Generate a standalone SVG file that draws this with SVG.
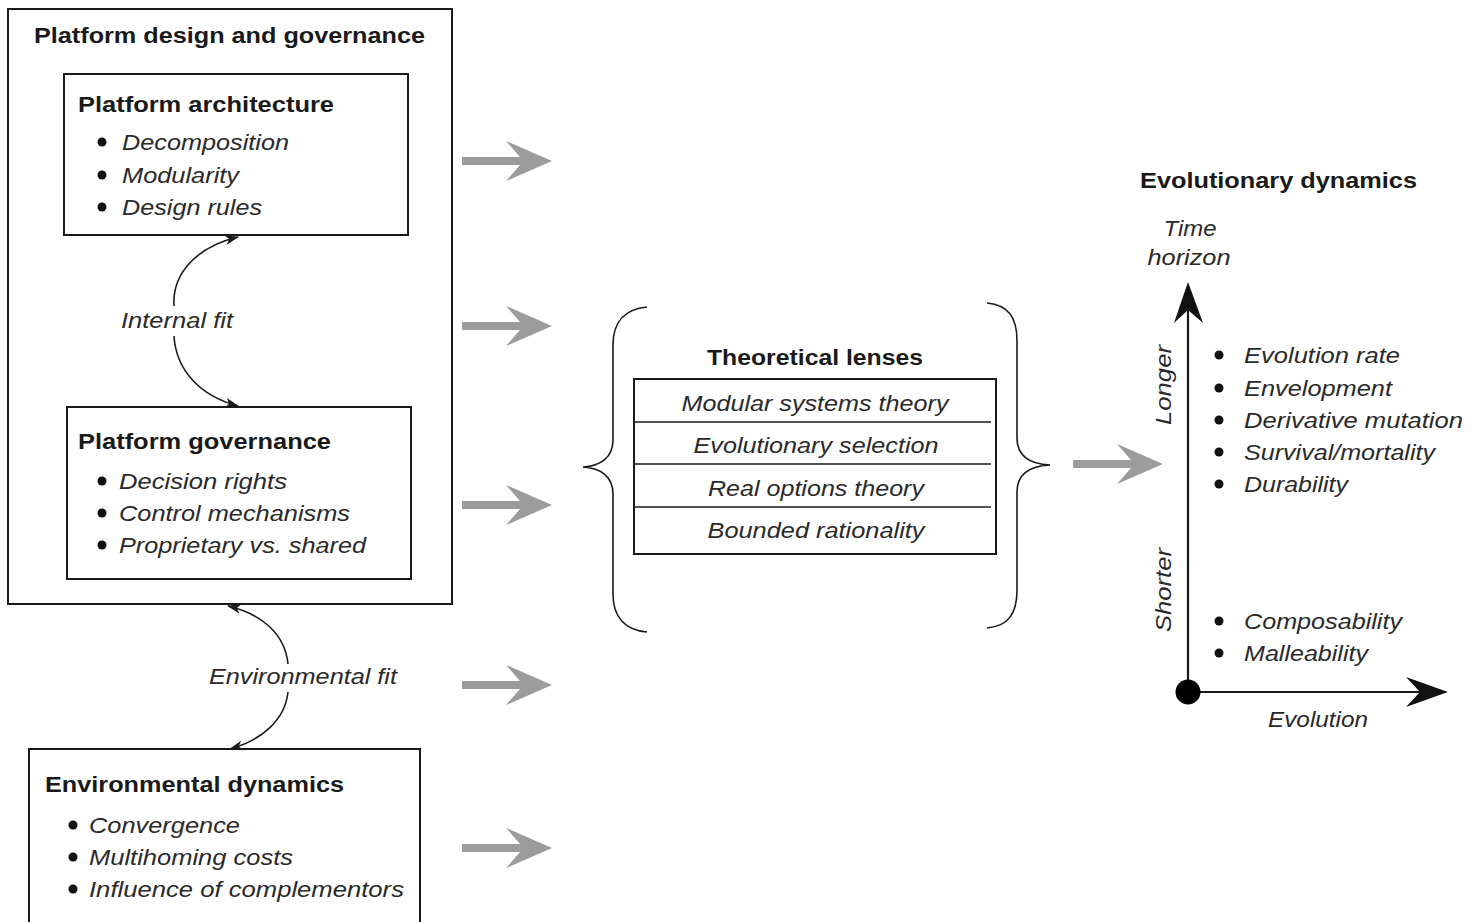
<svg xmlns="http://www.w3.org/2000/svg" width="1483" height="922" viewBox="0 0 1483 922">
  <style>
    .box { fill: none; stroke: #1a1a1a; stroke-width: 2; }
    .thin { fill: none; stroke: #1a1a1a; stroke-width: 1.6; }
    .h { font-family: "Liberation Sans", Arial, sans-serif; font-weight: bold; font-size: 22px; fill: #1a1a1a; }
    .i { font-family: "Liberation Sans", Arial, sans-serif; font-style: italic; font-size: 22px; fill: #2a2a2a; }
    .dot { fill: #111; }
    .flow { fill: #9c9c9c; }
    .curve { fill: none; stroke: #1a1a1a; stroke-width: 1.6; }
  </style>
  <defs>
    <marker id="tip" viewBox="0 0 14 10" refX="13" refY="5" markerWidth="14" markerHeight="10" markerUnits="userSpaceOnUse" orient="auto">
      <path d="M0,0 L14,5 L0,10 L4,5 Z" fill="#1a1a1a"/>
    </marker>
    <!-- broad grey arrow used between the columns -->
    <path id="flowArrow" class="flow" d="M0,-4 L58,-4 L44,-20 L90,0 L44,20 L58,4 L0,4 Z"/>
  </defs>
  <rect width="1483" height="922" fill="#ffffff"/>

  <!-- Platform design and governance -->
  <g id="platform-design">
    <rect class="box" x="8" y="9" width="444" height="595" stroke-width="2.5"/>
    <text class="h" x="34" y="43" textLength="391" lengthAdjust="spacingAndGlyphs">Platform design and governance</text>
  </g>

  <g id="platform-architecture">
    <rect class="box" x="64" y="74" width="344" height="161"/>
    <text class="h" x="78" y="112" textLength="256" lengthAdjust="spacingAndGlyphs">Platform architecture</text>
    <circle class="dot" cx="102" cy="142" r="4.5"/>
    <circle class="dot" cx="102" cy="175" r="4.5"/>
    <circle class="dot" cx="102" cy="207" r="4.5"/>
    <text class="i" x="122" y="150" textLength="167" lengthAdjust="spacingAndGlyphs">Decomposition</text>
    <text class="i" x="122" y="183" textLength="117" lengthAdjust="spacingAndGlyphs">Modularity</text>
    <text class="i" x="122" y="215" textLength="140" lengthAdjust="spacingAndGlyphs">Design rules</text>
  </g>

  <g id="platform-governance">
    <rect class="box" x="67" y="407" width="344" height="172"/>
    <text class="h" x="78" y="449" textLength="253" lengthAdjust="spacingAndGlyphs">Platform governance</text>
    <circle class="dot" cx="102" cy="481" r="4.5"/>
    <circle class="dot" cx="102" cy="513" r="4.5"/>
    <circle class="dot" cx="102" cy="545" r="4.5"/>
    <text class="i" x="119" y="489" textLength="168" lengthAdjust="spacingAndGlyphs">Decision  rights</text>
    <text class="i" x="119" y="521" textLength="231" lengthAdjust="spacingAndGlyphs">Control mechanisms</text>
    <text class="i" x="119" y="553" textLength="247" lengthAdjust="spacingAndGlyphs">Proprietary vs. shared</text>
  </g>

  <g id="environmental-dynamics">
    <rect class="box" x="29" y="749" width="391" height="180"/>
    <text class="h" x="45" y="792" textLength="299" lengthAdjust="spacingAndGlyphs">Environmental dynamics</text>
    <circle class="dot" cx="73" cy="825" r="4.5"/>
    <circle class="dot" cx="73" cy="857" r="4.5"/>
    <circle class="dot" cx="73" cy="889" r="4.5"/>
    <text class="i" x="89" y="833" textLength="151" lengthAdjust="spacingAndGlyphs">Convergence</text>
    <text class="i" x="89" y="865" textLength="204" lengthAdjust="spacingAndGlyphs">Multihoming costs</text>
    <text class="i" x="89" y="897" textLength="315" lengthAdjust="spacingAndGlyphs">Influence of complementors</text>
  </g>

  <g id="theoretical-lenses">
    <path class="thin" d="M647,307 C625,309 613,322 613,345 L613,440 C613,458 600,466 583,467 C600,468 613,476 613,494 L613,594 C613,617 625,630 647,632"/>
    <path class="thin" d="M987,303 C1009,305 1017,318 1017,341 L1017,438 C1017,456 1030,464 1050,465 C1030,466 1017,474 1017,492 L1017,590 C1017,613 1009,626 987,628"/>
    <text class="h" x="815" y="365" text-anchor="middle" textLength="216" lengthAdjust="spacingAndGlyphs">Theoretical lenses</text>
    <rect class="box" x="634" y="379" width="362" height="175"/>
    <line class="thin" x1="634" y1="422" x2="991" y2="422"/>
    <line class="thin" x1="634" y1="464" x2="991" y2="464"/>
    <line class="thin" x1="634" y1="507" x2="991" y2="507"/>
    <text class="i" x="815" y="411" text-anchor="middle" textLength="267" lengthAdjust="spacingAndGlyphs">Modular systems theory</text>
    <text class="i" x="816" y="453" text-anchor="middle" textLength="245" lengthAdjust="spacingAndGlyphs">Evolutionary selection</text>
    <text class="i" x="816" y="496" text-anchor="middle" textLength="216" lengthAdjust="spacingAndGlyphs">Real options theory</text>
    <text class="i" x="816" y="538" text-anchor="middle" textLength="217" lengthAdjust="spacingAndGlyphs">Bounded rationality</text>
  </g>

  <g id="evolutionary-dynamics">
    <text class="h" x="1140" y="188" textLength="277" lengthAdjust="spacingAndGlyphs">Evolutionary dynamics</text>
    <text class="i" x="1190" y="236" text-anchor="middle" textLength="53" lengthAdjust="spacingAndGlyphs">Time</text>
    <text class="i" x="1189" y="265" text-anchor="middle" textLength="83" lengthAdjust="spacingAndGlyphs">horizon</text>
    <!-- axes -->
    <line x1="1188" y1="692" x2="1188" y2="300" stroke="#1a1a1a" stroke-width="2.2"/>
    <path d="M1188,282 L1203,323 L1188,310 L1174,323 Z" fill="#111"/>
    <line x1="1188" y1="692" x2="1430" y2="692" stroke="#1a1a1a" stroke-width="2.2"/>
    <path d="M1448,692 L1406,707 L1420,692 L1406,677 Z" fill="#111"/>
    <circle cx="1188" cy="692" r="12.5" fill="#000"/>
    <text class="i" transform="translate(1171,385) rotate(-90)" text-anchor="middle" textLength="80" lengthAdjust="spacingAndGlyphs">Longer</text>
    <text class="i" transform="translate(1171,590) rotate(-90)" text-anchor="middle" textLength="84" lengthAdjust="spacingAndGlyphs">Shorter</text>
    <circle class="dot" cx="1219" cy="355" r="4.5"/>
    <circle class="dot" cx="1219" cy="388" r="4.5"/>
    <circle class="dot" cx="1219" cy="420" r="4.5"/>
    <circle class="dot" cx="1219" cy="452" r="4.5"/>
    <circle class="dot" cx="1219" cy="484" r="4.5"/>
    <circle class="dot" cx="1219" cy="621" r="4.5"/>
    <circle class="dot" cx="1219" cy="653" r="4.5"/>
    <text class="i" x="1244" y="363" textLength="156" lengthAdjust="spacingAndGlyphs">Evolution rate</text>
    <text class="i" x="1244" y="396" textLength="148" lengthAdjust="spacingAndGlyphs">Envelopment</text>
    <text class="i" x="1244" y="428" textLength="219" lengthAdjust="spacingAndGlyphs">Derivative  mutation</text>
    <text class="i" x="1244" y="460" textLength="191" lengthAdjust="spacingAndGlyphs">Survival/mortality</text>
    <text class="i" x="1244" y="492" textLength="104" lengthAdjust="spacingAndGlyphs">Durability</text>
    <text class="i" x="1244" y="629" textLength="158" lengthAdjust="spacingAndGlyphs">Composability</text>
    <text class="i" x="1244" y="661" textLength="124" lengthAdjust="spacingAndGlyphs">Malleability</text>
    <text class="i" x="1268" y="727" textLength="100" lengthAdjust="spacingAndGlyphs">Evolution</text>
  </g>

  <!-- connectors -->
  <g id="connectors">
    <path class="curve" d="M174,306 C172,274 196,247 238,237" marker-end="url(#tip)"/>
    <path class="curve" d="M174,336 C176,370 200,396 238,406" marker-end="url(#tip)"/>
    <text class="i" x="121" y="328" textLength="112" lengthAdjust="spacingAndGlyphs">Internal fit</text>
    <path class="curve" d="M288,664 C285,634 262,614 228,606" marker-end="url(#tip)"/>
    <path class="curve" d="M288,692 C285,720 262,740 230,749" marker-end="url(#tip)"/>
    <text class="i" x="209" y="684" textLength="188" lengthAdjust="spacingAndGlyphs">Environmental fit</text>
    <use href="#flowArrow" x="462" y="161"/>
    <use href="#flowArrow" x="462" y="326"/>
    <use href="#flowArrow" x="462" y="505"/>
    <use href="#flowArrow" x="462" y="685"/>
    <use href="#flowArrow" x="462" y="848"/>
    <use href="#flowArrow" x="1073" y="464"/>
  </g>
</svg>
